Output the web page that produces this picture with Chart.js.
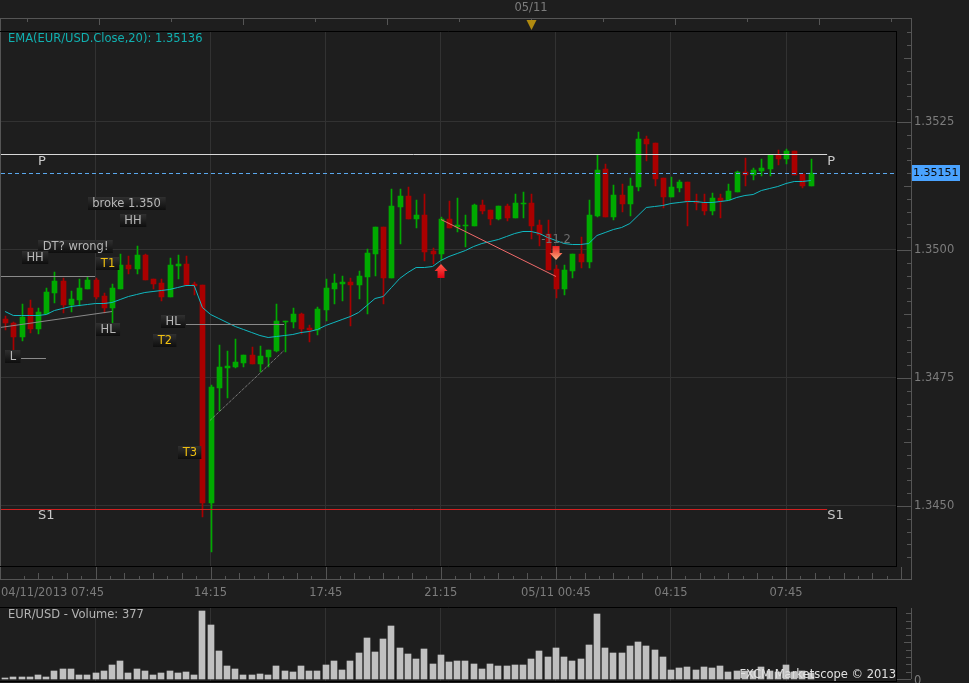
<!DOCTYPE html>
<html>
<head>
<meta charset="utf-8">
<script src="https://cdn.jsdelivr.net/npm/chart.js@4/dist/chart.umd.js"></script>
<style>
  html, body { margin: 0; padding: 0; background: #1e1e1e; overflow: hidden; }
  canvas { position: absolute; left: 0; }
  #priceChart { top: 0; }
  #volumeChart { top: 600px; }
</style>
</head>
<body>
<canvas id="priceChart" width="969" height="600"></canvas>
<canvas id="volumeChart" width="969" height="83"></canvas>
<script>
const openPrices = [
  1.34865,1.34858,1.34830,1.34887,1.34846,1.34875,1.34916,1.34939,1.34893,1.34902,
  1.34924,1.34941,1.34910,1.34887,1.34924,1.34971,1.34963,1.34990,1.34943,1.34936,
  1.34908,1.34969,1.34973,1.34934,1.34932,1.34505,1.34730,1.34770,1.34772,1.34779,
  1.34795,1.34777,1.34791,1.34803,1.34859,1.34859,1.34875,1.34848,1.34844,1.34883,
  1.34924,1.34934,1.34938,1.34932,1.34947,1.34992,1.35045,1.34945,1.35084,1.35105,
  1.35061,1.35068,1.34998,1.34992,1.35061,1.35045,1.35047,1.35047,1.35088,1.35078,
  1.35061,1.35086,1.35062,1.35090,1.35092,1.35049,1.35031,1.34963,1.34924,1.34959,
  1.34992,1.34977,1.35066,1.35158,1.35064,1.35107,1.35090,1.35123,1.35217,1.35209,
  1.35141,1.35104,1.35121,1.35133,1.35096,1.35092,1.35076,1.35102,1.35098,1.35113,
  1.35152,1.35146,1.35154,1.35158,1.35186,1.35178,1.35193,1.35148,1.35125
];
const highPrices = [
  1.34871,1.34859,1.34895,1.34902,1.34887,1.34926,1.34957,1.34945,1.34920,1.34943,
  1.34947,1.34945,1.34916,1.34934,1.34992,1.34988,1.35008,1.34992,1.34943,1.34943,
  1.34984,1.34990,1.34988,1.34938,1.34932,1.34736,1.34814,1.34803,1.34826,1.34795,
  1.34811,1.34813,1.34805,1.34895,1.34861,1.34887,1.34877,1.34854,1.34889,1.34943,
  1.34953,1.34949,1.34945,1.34959,1.35002,1.35045,1.35045,1.35119,1.35119,1.35123,
  1.35098,1.35109,1.35004,1.35064,1.35096,1.35102,1.35068,1.35090,1.35098,1.35078,
  1.35086,1.35090,1.35109,1.35113,1.35109,1.35059,1.35059,1.34971,1.34971,1.34992,
  1.35025,1.35098,1.35186,1.35168,1.35127,1.35129,1.35141,1.35230,1.35223,1.35209,
  1.35141,1.35143,1.35137,1.35133,1.35109,1.35109,1.35111,1.35109,1.35129,1.35154,
  1.35180,1.35160,1.35178,1.35186,1.35195,1.35197,1.35193,1.35148,1.35178
];
const lowPrices = [
  1.34844,1.34805,1.34822,1.34838,1.34836,1.34875,1.34896,1.34877,1.34879,1.34891,
  1.34924,1.34904,1.34877,1.34855,1.34924,1.34953,1.34953,1.34941,1.34924,1.34900,
  1.34908,1.34943,1.34930,1.34912,1.34479,1.34411,1.34686,1.34711,1.34770,1.34772,
  1.34777,1.34762,1.34772,1.34801,1.34801,1.34848,1.34836,1.34820,1.34834,1.34861,
  1.34895,1.34900,1.34852,1.34904,1.34875,1.34949,1.34895,1.34945,1.35012,1.35061,
  1.35043,1.34979,1.34973,1.34980,1.35043,1.35035,1.35006,1.35047,1.35070,1.35049,
  1.35059,1.35057,1.35062,1.35062,1.35021,1.35008,1.34961,1.34906,1.34912,1.34945,
  1.34965,1.34965,1.35064,1.35064,1.35059,1.35074,1.35066,1.35115,1.35174,1.35125,
  1.35082,1.35104,1.35113,1.35047,1.35078,1.35068,1.35068,1.35062,1.35098,1.35113,
  1.35125,1.35137,1.35145,1.35145,1.35166,1.35168,1.35146,1.35121,1.35125
];
const closePrices = [
  1.34857,1.34831,1.34869,1.34846,1.34879,1.34918,1.34939,1.34893,1.34904,1.34926,
  1.34941,1.34908,1.34887,1.34926,1.34971,1.34963,1.34990,1.34941,1.34934,1.34908,
  1.34971,1.34973,1.34932,1.34930,1.34506,1.34732,1.34772,1.34773,1.34781,1.34795,
  1.34777,1.34793,1.34805,1.34861,1.34861,1.34875,1.34846,1.34844,1.34885,1.34926,
  1.34936,1.34938,1.34932,1.34949,1.34994,1.35045,1.34945,1.35086,1.35105,1.35061,
  1.35068,1.34996,1.34992,1.35061,1.35043,1.35049,1.35049,1.35088,1.35076,1.35061,
  1.35086,1.35062,1.35092,1.35092,1.35047,1.35029,1.34961,1.34924,1.34961,1.34992,
  1.34977,1.35068,1.35156,1.35064,1.35107,1.35090,1.35125,1.35217,1.35207,1.35139,
  1.35104,1.35123,1.35133,1.35094,1.35092,1.35076,1.35102,1.35096,1.35115,1.35152,
  1.35146,1.35156,1.35160,1.35186,1.35178,1.35193,1.35146,1.35125,1.35151
];
const emaValues = [
  1.34881,1.34873,1.34873,1.34873,1.34873,1.34875,1.34883,1.34887,1.34891,1.34893,
  1.34895,1.34896,1.34896,1.34898,1.34904,1.34910,1.34914,1.34918,1.34920,1.34922,
  1.34924,1.34928,1.34932,1.34932,1.34889,1.34875,1.34867,1.34859,1.34852,1.34846,
  1.34840,1.34834,1.34830,1.34832,1.34834,1.34836,1.34840,1.34842,1.34846,1.34854,
  1.34859,1.34865,1.34871,1.34879,1.34893,1.34906,1.34910,1.34928,1.34945,1.34957,
  1.34967,1.34967,1.34969,1.34980,1.34988,1.34994,1.35000,1.35008,1.35014,1.35018,
  1.35021,1.35027,1.35033,1.35037,1.35037,1.35033,1.35025,1.35020,1.35014,1.35012,
  1.35012,1.35014,1.35029,1.35035,1.35041,1.35045,1.35053,1.35068,1.35084,1.35086,
  1.35088,1.35092,1.35094,1.35096,1.35096,1.35094,1.35094,1.35096,1.35098,1.35104,
  1.35107,1.35109,1.35117,1.35121,1.35125,1.35131,1.35135,1.35135,1.35136
];
const volumes = [
  70,135,135,135,275,135,550,685,685,275,275,410,550,960,1235,410,685,550,275,410,
  550,410,480,275,4660,3700,1920,890,685,275,275,345,275,890,550,480,890,550,550,960,
  1235,615,1235,1780,2810,1850,2740,3630,2125,1710,1370,2055,1030,1645,1165,1235,1235,1030,685,1030,
  890,890,960,960,1370,1920,1505,2125,1505,1235,1370,2330,4450,2125,1780,1780,2260,2535,2260,1985,
  1505,615,755,820,615,820,755,890,480,550,550,550,820,550,480,960,480,550,377
];

const priceTicks = [1.3525, 1.35, 1.3475, 1.345];
const timeTickIndex = [11, 25, 39, 53, 67, 81, 95];
const timeTickLabels = ["04/11/2013 07:45", "14:15", "17:45", "21:15", "05/11 00:45", "04:15", "07:45"];
const lastPrice = 1.35151;
const dayMarkIndex = 64;
const dayMarkLabel = "05/11";

// pivot and hand drawn lines, [index, price] pairs
const pivotP = [[-0.62, 1.35187], [100, 1.35187]];
const pivotS1 = [[-0.62, 1.34494], [100, 1.34494]];
const topLine = [[-0.62, 1.34950], [10.94, 1.34950]];
const lowLine = [[1.94, 1.34790], [4.97, 1.34790]];
const riseLine = [[-0.62, 1.34850], [13.0, 1.34881]];
const hlLine = [[22.0, 1.34855], [33.93, 1.34855]];
const trendLine = [[24.92, 1.34667], [33.93, 1.34805]];
const tradeLine = [[53.03, 1.35061], [67.02, 1.34949]];

const noteTexts = ["broke 1.350", "HH", "DT? wrong!", "HH", "T1", "HL", "L", "HL", "T2", "T3"];
const noteIndex = [14.77, 15.56, 8.58, 3.64, 12.52, 12.52, 0.96, 20.43, 19.45, 22.49];
const notePrice = [1.35090, 1.35057, 1.35006, 1.34986, 1.34973, 1.34844, 1.34791, 1.34861, 1.34824, 1.34605];
const pivotTexts = ["P", "P", "S1", "S1"];
const pivotTextIndex = [4.0, 100, 4.0, 100];
const pivotTextPrice = [1.35187, 1.35187, 1.34494, 1.34494];

const FONT = "11.5px 'DejaVu Sans'";
const GREEN = "#00aa00";
const RED = "#aa0000";
const GRID = "#323232";
const FRAME = "#555555";
const isUp = closePrices.map((c, i) => c >= openPrices[i]);
const candleColors = isUp.map((u) => (u ? GREEN : RED));
const xRange = { min: -0.5, max: 108.5 };

const toXY = (pts) => pts.map((p) => ({ x: p[0], y: p[1] }));
const lineSet = (pts, color, extra) =>
  Object.assign({ type: "line", data: toXY(pts), borderColor: color, borderWidth: 1, pointRadius: 0, order: 1 }, extra);

// keep bars and lines on whole pixels, the original chart has no soft edges
const snapMarks = {
  id: "snapMarks",
  beforeDatasetsDraw(chart) {
    chart.getSortedVisibleDatasetMetas().forEach((meta) => {
      if (meta.type === "line") {
        meta.data.forEach((pt) => { pt.y = Math.round(pt.y) + 0.5; });
        return;
      }
      meta.data.forEach((el) => {
        el.x = Math.round(el.x) + (el.width % 2 ? 0.5 : 0);
        el.y = Math.round(el.y);
        el.base = Math.round(el.base);
        if (el.y === el.base) el.base = el.y + 1;
      });
    });
  },
};

function hline(ctx, x1, x2, y) {
  ctx.beginPath();
  ctx.moveTo(x1, y + 0.5);
  ctx.lineTo(x2, y + 0.5);
  ctx.stroke();
}
function vline(ctx, x, y1, y2) {
  ctx.beginPath();
  ctx.moveTo(x + 0.5, y1);
  ctx.lineTo(x + 0.5, y2);
  ctx.stroke();
}

function drawArrow(ctx, cx, cy, dir, c1, c2) {
  const g = ctx.createLinearGradient(0, cy - 7, 0, cy + 7);
  g.addColorStop(0, c1);
  g.addColorStop(1, c2);
  ctx.fillStyle = g;
  ctx.beginPath();
  ctx.moveTo(cx, cy - 7 * dir);
  ctx.lineTo(cx + 6.5, cy);
  ctx.lineTo(cx + 3.5, cy);
  ctx.lineTo(cx + 3.5, cy + 7 * dir);
  ctx.lineTo(cx - 3.5, cy + 7 * dir);
  ctx.lineTo(cx - 3.5, cy);
  ctx.lineTo(cx - 6.5, cy);
  ctx.closePath();
  ctx.fill();
}

const priceDecor = {
  id: "priceDecor",
  afterDraw(chart) {
    const { ctx, chartArea: a, scales } = chart;
    const x = scales.x, y = scales.y;
    ctx.save();
    ctx.lineWidth = 1;

    // outer grey frame
    ctx.strokeStyle = FRAME;
    hline(ctx, 0, 912, 18);
    hline(ctx, 0, 912, 579);
    vline(ctx, 911, 18, 580);
    vline(ctx, 0, 18, 580);

    // black panel border
    ctx.strokeStyle = "#000000";
    hline(ctx, 0, 897, 31);
    hline(ctx, 0, 897, 566);
    vline(ctx, 896, 31, 567);

    // right axis ticks
    ctx.strokeStyle = FRAME;
    for (let k = -7; k < 35; k++) {
      const py = Math.round(y.getPixelForValue(1.3525 - k * 0.00025));
      if (py < a.top || py > a.bottom) continue;
      const from = k % 10 === 0 ? 897 : k % 5 === 0 ? 904 : 907;
      hline(ctx, from, 911, py);
    }

    // bottom axis ticks
    for (let k = -5; k <= 56; k++) {
      const px = Math.round(x.getPixelForValue(11 + k * 1.75));
      const top = k % 8 === 0 ? 567 : k % 2 === 0 ? 573 : 576;
      vline(ctx, px, top, 579);
    }

    // top axis ticks
    for (let k = -7; k <= 5; k++) {
      const px = Math.round(x.getPixelForValue(dayMarkIndex + k * 8.76));
      vline(ctx, px, 19, k % 2 === 0 ? 25 : 22);
    }

    // last price dashed line
    const lastY = Math.round(y.getPixelForValue(lastPrice));
    ctx.strokeStyle = "#5aa8ee";
    ctx.setLineDash([4, 3]);
    hline(ctx, a.left, a.right, lastY);
    ctx.setLineDash([]);
    ctx.fillStyle = "#4aa3ff";
    ctx.fillRect(912, lastY - 8, 48, 16);
    ctx.font = "11px 'DejaVu Sans'";
    ctx.textBaseline = "middle";
    ctx.textAlign = "left";
    ctx.fillStyle = "#0c0c0c";
    ctx.fillText(lastPrice.toFixed(5), 913, lastY + 0.5);
    ctx.font = FONT;

    // time labels
    ctx.fillStyle = "#7c7c7c";
    timeTickLabels.forEach((t, i) => {
      const px = x.getPixelForValue(timeTickIndex[i]);
      if (i === 0) {
        ctx.textAlign = "left";
        ctx.fillText(t, 1, 593);
      } else {
        ctx.textAlign = "center";
        ctx.fillText(t, px, 593);
      }
    });

    // day marker
    const mx = Math.round(x.getPixelForValue(dayMarkIndex));
    ctx.textAlign = "center";
    ctx.fillStyle = "#7c7c7c";
    ctx.fillText(dayMarkLabel, mx, 8.5);
    ctx.fillStyle = "#b08a10";
    ctx.beginPath();
    ctx.moveTo(mx - 4.5, 20);
    ctx.lineTo(mx + 5.5, 20);
    ctx.lineTo(mx + 0.5, 30);
    ctx.closePath();
    ctx.fill();

    // indicator title
    ctx.textAlign = "left";
    ctx.fillStyle = "#10b0b0";
    ctx.fillText("EMA(EUR/USD.Close,20): 1.35136", 8, 39.5);

    // boxed notes
    noteTexts.forEach((t, i) => {
      const cx = x.getPixelForValue(noteIndex[i]);
      const cy = y.getPixelForValue(notePrice[i]);
      const w = ctx.measureText(t).width + 9;
      const bx = Math.round(cx - w / 2), by = Math.round(cy - 6.5);
      const g = ctx.createLinearGradient(0, by, 0, by + 13);
      g.addColorStop(0, "#303030");
      g.addColorStop(1, "#0e0e0e");
      ctx.fillStyle = g;
      ctx.fillRect(bx, by, w, 13);
      ctx.fillStyle = /^T\d/.test(t) ? "#f0c010" : "#b8b8b8";
      ctx.textAlign = "center";
      ctx.fillText(t, cx, cy + 0.5);
    });

    // pivot letters
    ctx.font = "13px 'DejaVu Sans'";
    ctx.fillStyle = "#c8c8c8";
    ctx.textAlign = "left";
    ctx.textBaseline = "top";
    pivotTexts.forEach((t, i) => {
      ctx.fillText(t, x.getPixelForValue(pivotTextIndex[i]), y.getPixelForValue(pivotTextPrice[i]) + 0.5);
    });

    // trade arrows and result
    drawArrow(ctx, x.getPixelForValue(53.03), y.getPixelForValue(1.34959), 1, "#ff5a4a", "#e00010");
    drawArrow(ctx, x.getPixelForValue(67.02), y.getPixelForValue(1.34994), -1, "#e82020", "#ffb080");
    ctx.font = FONT;
    ctx.textBaseline = "middle";
    ctx.textAlign = "center";
    ctx.fillStyle = "#6e6e6e";
    ctx.fillText("-11.2", x.getPixelForValue(67.02), y.getPixelForValue(1.3502));

    ctx.restore();
  },
};

const volumeDecor = {
  id: "volumeDecor",
  afterDraw(chart) {
    const { ctx, scales } = chart;
    const y = scales.y;
    ctx.save();
    ctx.lineWidth = 1;
    ctx.strokeStyle = "#000000";
    hline(ctx, 0, 897, 7);
    hline(ctx, 0, 897, 81);
    vline(ctx, 896, 7, 82);
    ctx.strokeStyle = FRAME;
    vline(ctx, 911, 8, 79);
    for (let k = 0; k <= 9; k++) {
      const py = Math.round(y.getPixelForValue(k * 500));
      hline(ctx, k === 0 ? 897 : k % 5 === 0 ? 904 : 906, 911, py);
    }
    ctx.font = FONT;
    ctx.textAlign = "left";
    ctx.textBaseline = "middle";
    ctx.fillStyle = "#7c7c7c";
    ctx.fillText("0", 914, y.getPixelForValue(0) + 2);
    ctx.fillStyle = "#b4b4b4";
    ctx.fillText("EUR/USD - Volume: 377", 8, 15.5);
    ctx.textAlign = "right";
    ctx.fillStyle = "#e0e0e0";
    ctx.fillText("FXCM Marketscope \u00a9 2013", 896, 75);
    ctx.restore();
  },
};

const indexes = closePrices.map((c, i) => i);

new Chart(document.getElementById("priceChart"), {
  type: "bar",
  plugins: [snapMarks, priceDecor],
  data: {
    datasets: [
      lineSet(pivotP, "#d8d8d8"),
      lineSet(pivotS1, "#d02020"),
      lineSet(topLine, "#8a8a8a"),
      lineSet(lowLine, "#8a8a8a"),
      lineSet(riseLine, "#8a8a8a"),
      lineSet(hlLine, "#8a8a8a"),
      lineSet(trendLine, "#a0a0a0", { borderDash: [1, 1] }),
      lineSet(tradeLine, "#f06a6a"),
      {
        type: "line",
        data: indexes.map((i) => ({ x: i, y: emaValues[i] })),
        borderColor: "#10b8c0",
        borderWidth: 1,
        pointRadius: 0,
        order: 2,
      },
      {
        data: indexes.map((i) => ({ x: i, y: [openPrices[i], closePrices[i]] })),
        backgroundColor: candleColors,
        barThickness: 5,
        grouped: false,
        order: 3,
      },
      {
        data: indexes.map((i) => ({ x: i, y: [lowPrices[i], highPrices[i]] })),
        backgroundColor: candleColors,
        barThickness: 1,
        grouped: false,
        order: 4,
      },
    ],
  },
  options: {
    responsive: false,
    animation: false,
    devicePixelRatio: 1,
    layout: { padding: { left: 1, top: 31, right: 0, bottom: 0 } },
    plugins: { legend: { display: false }, tooltip: { enabled: false } },
    scales: {
      x: {
        type: "linear",
        offset: false,
        min: xRange.min,
        max: xRange.max,
        grid: { color: GRID, drawTicks: false, offset: false },
        border: { display: false },
        ticks: { display: false },
        afterBuildTicks: (s) => { s.ticks = timeTickIndex.map((v) => ({ value: v })); },
        afterFit: (s) => { s.height = 33.5; },
      },
      y: {
        position: "right",
        min: 1.343818,
        max: 1.354277,
        grid: { color: GRID, drawTicks: false },
        border: { display: false },
        ticks: {
          color: "#7c7c7c",
          font: { family: "DejaVu Sans", size: 11.5 },
          padding: 17,
          callback: (v) => v.toFixed(4),
        },
        afterBuildTicks: (s) => { s.ticks = priceTicks.map((v) => ({ value: v })); },
        afterFit: (s) => { s.width = 72; },
      },
    },
  },
});

new Chart(document.getElementById("volumeChart"), {
  type: "bar",
  plugins: [snapMarks, volumeDecor],
  data: {
    datasets: [
      {
        data: indexes.map((i) => ({ x: i, y: volumes[i] })),
        backgroundColor: "#c0c0c0",
        barThickness: 6,
        grouped: false,
      },
    ],
  },
  options: {
    responsive: false,
    animation: false,
    devicePixelRatio: 1,
    layout: { padding: { left: 1, top: 8, right: 0, bottom: 2 } },
    plugins: { legend: { display: false }, tooltip: { enabled: false } },
    scales: {
      x: {
        type: "linear",
        offset: false,
        min: xRange.min,
        max: xRange.max,
        grid: { color: GRID, drawTicks: false, offset: false },
        border: { display: false },
        ticks: { display: false },
        afterBuildTicks: (s) => { s.ticks = timeTickIndex.map((v) => ({ value: v })); },
        afterFit: (s) => { s.height = 0; },
      },
      y: {
        position: "right",
        min: -137,
        max: 4863,
        grid: { display: false },
        border: { display: false },
        ticks: { display: false },
        afterFit: (s) => { s.width = 72; },
      },
    },
  },
});
</script>
</body>
</html>
